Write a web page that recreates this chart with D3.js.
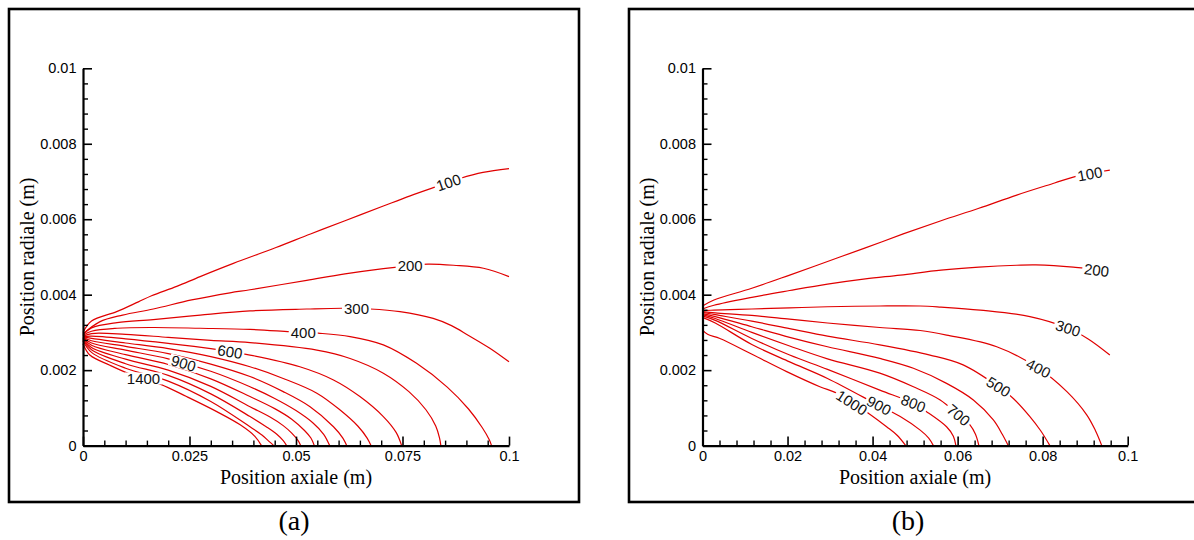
<!DOCTYPE html>
<html><head><meta charset="utf-8">
<script src="https://cdn.jsdelivr.net/npm/d3@7"></script>
<style>body{margin:0;background:#fff}</style>
</head><body>
<svg id="c" width="1194" height="540" xmlns="http://www.w3.org/2000/svg"></svg>
<script>
// ---------- tick labels ----------
const xTicksA = [0, 0.025, 0.05, 0.075, 0.1];
const xTickLabelsA = ["0", "0.025", "0.05", "0.075", "0.1"];
const xTicksB = [0, 0.02, 0.04, 0.06, 0.08, 0.1];
const xTickLabelsB = ["0", "0.02", "0.04", "0.06", "0.08", "0.1"];
const yTicks = [0, 0.002, 0.004, 0.006, 0.008, 0.01];
const yTickLabels = ["0", "0.002", "0.004", "0.006", "0.008", "0.01"];
const xMinorStepA = 0.005, xMinorStepB = 0.004, yMinorStep = 0.0004;

// ---------- panel (a) contours: [axial (m), radial (m)] ----------
const a100 = [[0,0.0030],[0.0020,0.0033],[0.0079,0.00355],[0.0130,0.00381],[0.0161,0.00397],[0.0220,0.00422],[0.0275,0.00448],[0.0353,0.00483],[0.0453,0.00525],[0.0534,0.00561],[0.0615,0.00596],[0.0705,0.00635],[0.0768,0.00662],[0.0831,0.00687],[0.0885,0.00708],[0.0939,0.00724],[0.1,0.00734]];
const a200 = [[0,0.00296],[0.0039,0.00328],[0.0093,0.00346],[0.0165,0.00362],[0.0255,0.00386],[0.0345,0.00405],[0.0392,0.00413],[0.0525,0.00438],[0.0615,0.00455],[0.0705,0.00469],[0.0768,0.00477],[0.0810,0.00481],[0.0870,0.00478],[0.0940,0.0047],[0.1,0.00448]];
const a300 = [[0,0.00294],[0.002,0.00312],[0.008,0.00326],[0.0165,0.00334],[0.0275,0.00346],[0.0392,0.00357],[0.0525,0.00362],[0.0611,0.00364],[0.0674,0.00362],[0.0744,0.00355],[0.0822,0.00337],[0.0865,0.00318],[0.0905,0.00292],[0.0955,0.00258],[0.1,0.00222]];
const a400 = [[0,0.00292],[0.002,0.00303],[0.008,0.00311],[0.0165,0.00313],[0.0275,0.00311],[0.0392,0.00308],[0.0486,0.00302],[0.0552,0.00298],[0.0627,0.00289],[0.0705,0.00267],[0.0783,0.00218],[0.0855,0.00155],[0.0905,0.00097],[0.0937,0.00048],[0.0954,0.00015],[0.0959,0]];
const a500 = [[0,0.0029],[0.002,0.00297],[0.01,0.00295],[0.02,0.00287],[0.03,0.00279],[0.0392,0.00273],[0.0549,0.00253],[0.0627,0.00231],[0.0705,0.00192],[0.0765,0.00143],[0.0805,0.00095],[0.0828,0.00052],[0.0837,0.0002],[0.0840,0]];
const a600 = [[0,0.00289],[0.002,0.0029],[0.01,0.00283],[0.02,0.00271],[0.03,0.00257],[0.0392,0.0024],[0.0509,0.00209],[0.0588,0.00174],[0.065,0.0013],[0.0705,0.00077],[0.0735,0.00035],[0.0748,0]];
const a700 = [[0,0.00288],[0.002,0.00284],[0.01,0.00272],[0.02,0.00257],[0.03,0.00236],[0.0392,0.00209],[0.047,0.00178],[0.0549,0.00139],[0.0605,0.00093],[0.0645,0.00052],[0.0667,0.0002],[0.0676,0]];
const a800 = [[0,0.00287],[0.002,0.00278],[0.01,0.00263],[0.02,0.00244],[0.03,0.00216],[0.0392,0.00183],[0.047,0.00143],[0.0533,0.00103],[0.0588,0.0005],[0.061,0.0002],[0.0619,0]];
const a900 = [[0,0.00286],[0.002,0.00272],[0.01,0.00253],[0.02,0.0023],[0.03,0.00197],[0.0392,0.00156],[0.045,0.00125],[0.05,0.00093],[0.054,0.0006],[0.0565,0.0003],[0.0579,0]];
const a1000 = [[0,0.00284],[0.002,0.00266],[0.01,0.00241],[0.02,0.00215],[0.03,0.00177],[0.0392,0.0013],[0.045,0.00098],[0.049,0.0007],[0.052,0.0004],[0.0535,0.0002],[0.0543,0]];
const a1100 = [[0,0.00282],[0.002,0.0026],[0.01,0.00229],[0.02,0.002],[0.03,0.00157],[0.0392,0.00103],[0.044,0.00075],[0.047,0.00053],[0.049,0.00033],[0.0505,0.00013],[0.0511,0]];
const a1200 = [[0,0.0028],[0.002,0.00254],[0.01,0.00217],[0.02,0.00186],[0.03,0.00137],[0.0392,0.00077],[0.043,0.0005],[0.0455,0.0003],[0.047,0.00013],[0.0478,0]];
const a1300 = [[0,0.00277],[0.002,0.00247],[0.01,0.00205],[0.02,0.00171],[0.03,0.00117],[0.0392,0.0005],[0.042,0.00028],[0.0438,0.0001],[0.0448,0]];
const a1400 = [[0,0.0027],[0.0016,0.0024],[0.0063,0.00213],[0.0103,0.00193],[0.0181,0.00163],[0.0243,0.0013],[0.0314,0.0009],[0.0369,0.00055],[0.0404,0.00024],[0.0419,0]];
const levelsA = [100,200,300,400,500,600,700,800,900,1000,1100,1200,1300,1400];
const linesA = [a100,a200,a300,a400,a500,a600,a700,a800,a900,a1000,a1100,a1200,a1300,a1400];
// labelled levels and the axial position of their label
const labelLevelsA = [100, 200, 300, 400, 600, 900, 1400];
const labelXA = [0.0858, 0.0768, 0.0642, 0.0517, 0.0345, 0.0236, 0.0142];

// ---------- panel (b) contours ----------
const b100 = [[0,0.0037],[0.0027,0.00386],[0.0116,0.00417],[0.0205,0.00452],[0.0294,0.00488],[0.0383,0.00524],[0.0472,0.00561],[0.0561,0.00596],[0.065,0.00629],[0.0739,0.00664],[0.0828,0.00696],[0.0876,0.00713],[0.0958,0.0073]];
const b200 = [[0,0.00362],[0.0027,0.00372],[0.0116,0.00393],[0.0205,0.00411],[0.0294,0.00428],[0.0383,0.00442],[0.0465,0.00452],[0.0561,0.00465],[0.065,0.00473],[0.0739,0.00478],[0.0784,0.00479],[0.0872,0.00473],[0.0927,0.00465],[0.0958,0.0045]];
const b300 = [[0,0.00358],[0.0027,0.00359],[0.0116,0.00362],[0.0205,0.00365],[0.0294,0.00368],[0.0417,0.0037],[0.0512,0.0037],[0.0561,0.00367],[0.0653,0.00359],[0.077,0.00342],[0.086,0.00311],[0.0908,0.00282],[0.0958,0.0024]];
const b400 = [[0,0.00355],[0.003,0.00352],[0.0116,0.00345],[0.0205,0.00335],[0.0294,0.00325],[0.0417,0.00313],[0.0512,0.00305],[0.0574,0.00293],[0.0692,0.00262],[0.079,0.00205],[0.0857,0.00143],[0.0904,0.00081],[0.0924,0.0004],[0.0939,0]];
const b500 = [[0,0.00353],[0.003,0.00347],[0.0116,0.0033],[0.0205,0.0031],[0.0294,0.0029],[0.0417,0.00267],[0.0535,0.0024],[0.0613,0.00214],[0.0696,0.00156],[0.0731,0.00125],[0.077,0.00077],[0.0795,0.0004],[0.0817,0]];
const b600 = [[0,0.0035],[0.003,0.00342],[0.0116,0.00315],[0.0205,0.00287],[0.0294,0.00262],[0.0417,0.00231],[0.0496,0.00205],[0.0574,0.00165],[0.0637,0.00121],[0.0684,0.00068],[0.0705,0.0003],[0.0719,0]];
const b700 = [[0,0.00347],[0.003,0.00337],[0.0116,0.003],[0.0205,0.00264],[0.0294,0.0023],[0.0417,0.00192],[0.0496,0.00156],[0.0559,0.00121],[0.0602,0.00081],[0.0629,0.00055],[0.0642,0.0003],[0.065,0]];
const b800 = [[0,0.00344],[0.003,0.00332],[0.0116,0.00284],[0.0205,0.0024],[0.0294,0.00202],[0.0417,0.00147],[0.0496,0.00112],[0.0527,0.0009],[0.0574,0.0005],[0.059,0.00025],[0.0596,0]];
const b900 = [[0,0.0034],[0.003,0.00325],[0.0116,0.00268],[0.0205,0.00222],[0.0294,0.00178],[0.0417,0.00105],[0.0465,0.00077],[0.0512,0.00041],[0.0532,0.0002],[0.0543,0]];
const b1000 = [[0,0.00306],[0.0012,0.00295],[0.0041,0.00284],[0.012,0.0024],[0.0198,0.00196],[0.0276,0.00156],[0.0316,0.00139],[0.039,0.00086],[0.0433,0.0005],[0.0457,0.00028],[0.0478,0]];
const levelsB = [100,200,300,400,500,600,700,800,900,1000];
const linesB = [b100,b200,b300,b400,b500,b600,b700,b800,b900,b1000];
const labelLevelsB = [100, 200, 300, 400, 500, 700, 800, 900, 1000];
const labelXB = [0.0911, 0.0927, 0.086, 0.079, 0.0696, 0.0602, 0.0496, 0.0415, 0.0351];

// ---------- drawing ----------
const svg = d3.select("#c");
const SANS = "'Liberation Sans', Arial, sans-serif";
const SERIF = "'Liberation Serif', 'Times New Roman', serif";
const RED = "#e00000";

const yScale = d3.scaleLinear().domain([0, 0.01]).range([445.6, 68.3]);

const panels = [
  {frame:[9, 9, 570, 493], xScale: d3.scaleLinear().domain([0,0.1]).range([83, 509]),
   xTicks:xTicksA, xLabels:xTickLabelsA, xMinor:xMinorStepA,
   levels:levelsA, lines:linesA, labLevels:labelLevelsA, labX:labelXA, flat:[200,300,400,1400],
   title:"(a)", titleX:294},
  {frame:[629, 9, 580, 493], xScale: d3.scaleLinear().domain([0,0.1]).range([702.5, 1127.7]),
   xTicks:xTicksB, xLabels:xTickLabelsB, xMinor:xMinorStepB,
   levels:levelsB, lines:linesB, labLevels:labelLevelsB, labX:labelXB, flat:[],
   title:"(b)", titleX:908}
];

function interpY(line, x) {
  for (let i = 0; i < line.length - 1; i++) {
    const [x0,y0] = line[i], [x1,y1] = line[i+1];
    if (x >= x0 && x <= x1) {
      const t = (x - x0) / (x1 - x0);
      return {y: y0 + t*(y1-y0), seg:[line[i], line[i+1]]};
    }
  }
  const n = line.length;
  return {y: line[n-1][1], seg:[line[n-2], line[n-1]]};
}

panels.forEach(p => {
  const g = svg.append("g");
  const xs = p.xScale;
  // frame
  g.append("rect").attr("x", p.frame[0]).attr("y", p.frame[1])
    .attr("width", p.frame[2]).attr("height", p.frame[3])
    .attr("fill", "none").attr("stroke", "#000").attr("stroke-width", 2.6);

  // contour lines
  const lineGen = d3.line().x(d => xs(d[0])).y(d => yScale(d[1])).curve(d3.curveCatmullRom.alpha(0.5));
  g.append("g").selectAll("path").data(p.lines).join("path")
    .attr("d", lineGen).attr("fill", "none").attr("stroke", RED).attr("stroke-width", 1.2);

  // contour labels
  p.labLevels.forEach((lev, i) => {
    const line = p.lines[p.levels.indexOf(lev)];
    const lx = p.labX[i];
    const r = interpY(line, lx);
    const px = xs(lx), py = yScale(r.y);
    const dx = xs(r.seg[1][0]) - xs(r.seg[0][0]);
    const dy = yScale(r.seg[1][1]) - yScale(r.seg[0][1]);
    let ang = Math.atan2(dy, dx) * 180 / Math.PI;
    if (p.flat.includes(lev)) ang = 0;
    const lg = g.append("g").attr("transform", `translate(${px},${py}) rotate(${ang})`);
    const rect = lg.append("rect").attr("fill", "#fff");
    const t = lg.append("text").text(lev).attr("text-anchor", "middle").attr("dy", "0.36em")
      .attr("font-family", SANS).attr("font-size", 15).attr("fill", "#111");
    const bb = t.node().getBBox();
    rect.attr("x", bb.x - 2).attr("y", -6).attr("width", bb.width + 4).attr("height", 12);
  });

  // axes
  const y0 = yScale(0);
  const xMajor = d3.axisBottom(xs).tickValues(p.xTicks).tickFormat((d,i) => p.xLabels[i])
    .tickSizeInner(-9).tickSizeOuter(0).tickPadding(5);
  const xMinorTicks = d3.range(0, 0.1 + 1e-9, p.xMinor).filter(v => !p.xTicks.some(t => Math.abs(t - v) < 1e-9));
  const xMinorAx = d3.axisBottom(xs).tickValues(xMinorTicks).tickFormat("").tickSizeInner(-5).tickSizeOuter(0);
  const gxm = g.append("g").attr("transform", `translate(0,${y0})`).call(xMinorAx);
  gxm.select(".domain").remove();
  gxm.selectAll("line").attr("stroke-width", 1.4);
  const gx = g.append("g").attr("transform", `translate(0,${y0})`).call(xMajor);
  gx.selectAll("text").attr("font-family", SANS).attr("font-size", 14.5).attr("fill", "#000");
  gx.select(".domain").attr("stroke-width", 2.2);
  gx.selectAll(".tick line").attr("stroke-width", 1.6);

  const x0 = xs(0);
  const yMajor = d3.axisLeft(yScale).tickValues(yTicks).tickFormat((d,i) => yTickLabels[i])
    .tickSizeInner(-9).tickSizeOuter(0).tickPadding(6.5);
  const yMinorTicks = d3.range(0, 0.01 + 1e-12, yMinorStep).filter(v => !yTicks.some(t => Math.abs(t - v) < 1e-9));
  const yMinorAx = d3.axisLeft(yScale).tickValues(yMinorTicks).tickFormat("").tickSizeInner(-5).tickSizeOuter(0);
  const gym = g.append("g").attr("transform", `translate(${x0},0)`).call(yMinorAx);
  gym.select(".domain").remove();
  gym.selectAll("line").attr("stroke-width", 1.4);
  const gy = g.append("g").attr("transform", `translate(${x0},0)`).call(yMajor);
  gy.selectAll("text").attr("font-family", SANS).attr("font-size", 14.5).attr("fill", "#000");
  gy.select(".domain").attr("stroke-width", 2.2);
  gy.selectAll(".tick line").attr("stroke-width", 1.6);

  // axis titles
  const xc = (xs(0) + xs(0.1)) / 2;
  g.append("text").text("Position axiale (m)").attr("x", xc).attr("y", 484)
    .attr("text-anchor", "middle").attr("font-family", SERIF).attr("font-size", 20);
  const yc = (yScale(0) + yScale(0.01)) / 2;
  g.append("text").text("Position radiale (m)")
    .attr("transform", `translate(${x0 - 49},${yc}) rotate(-90)`)
    .attr("text-anchor", "middle").attr("font-family", SERIF).attr("font-size", 20);

  // panel caption
  g.append("text").text(p.title).attr("x", p.titleX).attr("y", 530)
    .attr("text-anchor", "middle").attr("font-family", SERIF).attr("font-size", 28);
});
</script>
</body></html>
